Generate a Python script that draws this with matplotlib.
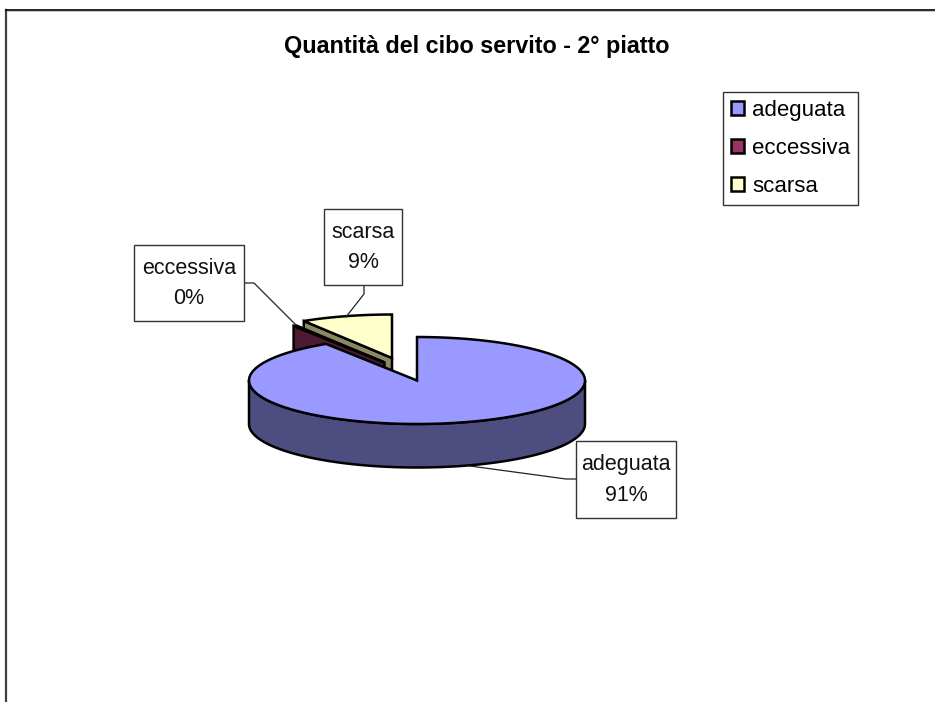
import numpy as np
import matplotlib
matplotlib.use('Agg')
import matplotlib.pyplot as plt
from matplotlib.patches import Polygon, Rectangle, Patch

plt.rcParams['font.family'] = ['Liberation Sans', 'DejaVu Sans']

categories = ['adeguata', 'eccessiva', 'scarsa']
shares = [90.9, 0.3, 8.8]
percent_labels = ['91%', '0%', '9%']
title = 'Quantità del cibo servito - 2° piatto'

top_colors = ['#9999ff', '#993366', '#ffffcc']
side_colors = ['#4d4d80', '#4d1a33', '#8a8a60']

# the whole figure is one axes measured in pixels, y going down
CX, CY = 417, 380.5
RX, RY = 168, 43.5
DEPTH = 43.5
OFFSETS = [(0, 0), (-32.5, -18), (-25, -22.5)]
EDGE_LW = 1.8


def rim(a0, a1, dx=0, dy=0, n=200):
    # angles in degrees, clockwise from north
    a = np.radians(np.linspace(a0, a1, n))
    return np.column_stack([CX + dx + RX * np.sin(a), CY + dy - RY * np.cos(a)])


def draw_slice(ax, a0, a1, off, top, side, z):
    dx, dy = off
    edge = rim(a0, a1, dx, dy)
    apex = np.array([[CX + dx, CY + dy]])
    # pulled out slices show the cut face on their opening edge
    if off != (0, 0):
        tip = edge[0]
        face = [apex[0], tip, tip + [0, DEPTH], apex[0] + [0, DEPTH]]
        ax.add_patch(Polygon(face, fc=side, ec='black', lw=EDGE_LW, zorder=z))
    # outer wall, only the part at the front
    lo, hi = max(a0, 90), min(a1, 270)
    if lo < hi:
        wall = rim(lo, hi, dx, dy)
        ax.add_patch(Polygon(np.vstack([wall, (wall + [0, DEPTH])[::-1]]),
                             fc=side, ec='black', lw=EDGE_LW, zorder=z))
    ax.add_patch(Polygon(np.vstack([apex, edge]), fc=top, ec='black', lw=EDGE_LW, zorder=z + 0.5))


def draw_callout(ax, text, box, line):
    x0, y0, x1, y1 = box
    ax.add_patch(Rectangle((x0, y0), x1 - x0, y1 - y0, fc='white', ec='#333333', lw=1, zorder=6))
    ax.text((x0 + x1) / 2, (y0 + y1) / 2 + 0.5, text, ha='center', va='center', fontsize=15.5,
            color='#111111', linespacing=1.62, zorder=7)
    ax.plot(line[0], line[1], color='#222222', lw=0.9, zorder=5)


def main():
    fig = plt.figure(figsize=(9.35, 7.02), dpi=100)
    ax = fig.add_axes([0, 0, 1, 1])
    ax.set_xlim(0, 935)
    ax.set_ylim(702, 0)
    ax.axis('off')

    # chart frame: only top and left fall inside the picture
    ax.plot([6, 6], [10, 702], color='#404040', lw=1.6, zorder=1)
    ax.plot([6, 935], [9.5, 9.5], color='black', lw=1.2, zorder=1)
    ax.plot([7, 935], [10.8, 10.8], color='#c8c8c8', lw=0.7, zorder=1)

    ax.text(476.5, 46, title, ha='center', va='center', fontsize=16.8, fontweight='bold', color='black')

    ends = np.cumsum(shares) * 3.6
    starts = np.concatenate([[0], ends[:-1]])
    # painted back to front
    for i, z in [(2, 2), (1, 3), (0, 4)]:
        draw_slice(ax, starts[i], ends[i], OFFSETS[i], top_colors[i], side_colors[i], z)

    draw_callout(ax, categories[0] + '\n' + percent_labels[0], (576, 441, 676, 517.5),
                 ([576, 566, 470], [479, 479, 466]))
    draw_callout(ax, categories[1] + '\n' + percent_labels[1], (134, 245, 244, 321),
                 ([244, 254, 296], [283, 283, 325]))
    draw_callout(ax, categories[2] + '\n' + percent_labels[2], (324, 209, 402, 285),
                 ([364, 364, 346], [285, 294, 317]))

    handles = [Patch(fc=c, ec='black', lw=1.8) for c in top_colors]
    leg = ax.legend(handles, categories, loc='upper left', bbox_to_anchor=(723, 92),
                    bbox_transform=ax.transData, fontsize=16, frameon=True, fancybox=False,
                    edgecolor='#333333', framealpha=1, borderaxespad=0, borderpad=0.36,
                    handlelength=0.58, handleheight=0.58, handletextpad=0.38, labelspacing=0.76)
    leg.set_zorder(8)
    leg.get_frame().set_linewidth(1)

    fig.savefig('out.png', dpi=100)


if __name__ == "__main__":
    main()
